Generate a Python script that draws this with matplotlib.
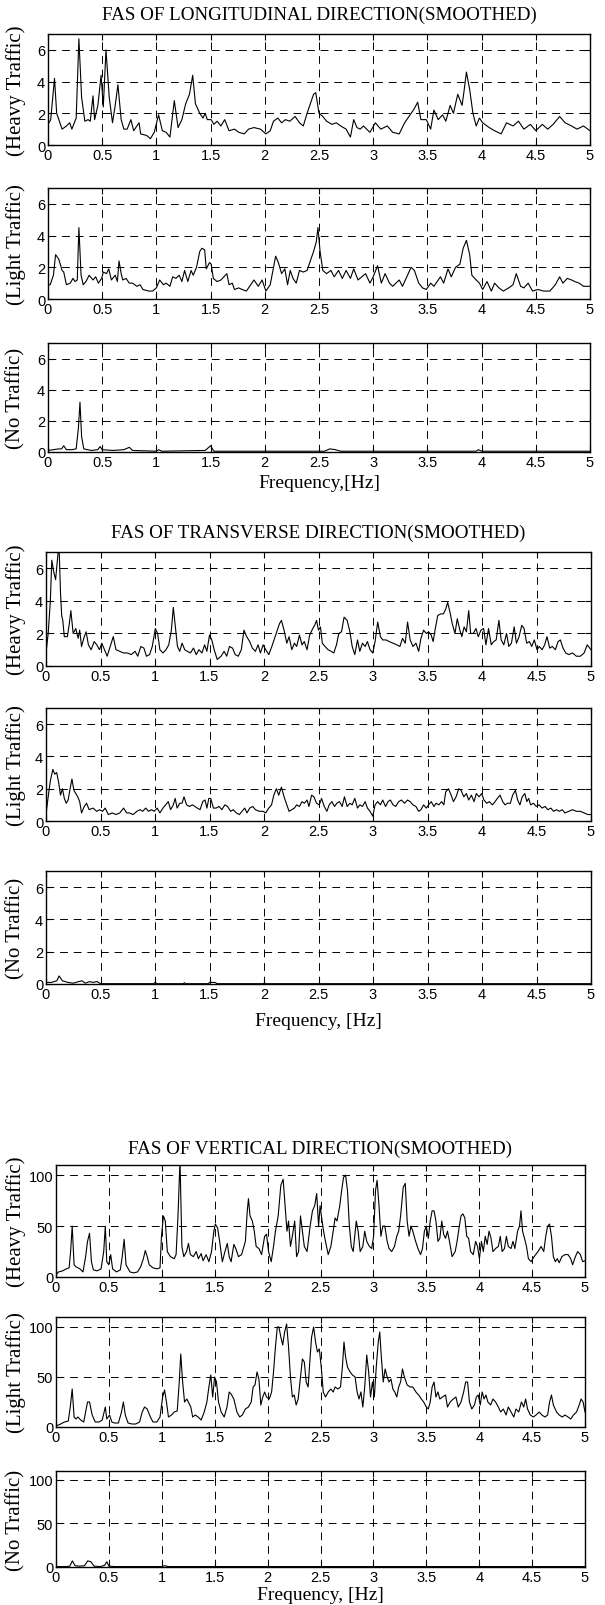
import numpy as np
import matplotlib.pyplot as plt
from matplotlib.ticker import FuncFormatter

# (frequency Hz, amplitude)

# longitudinal
long_heavy = [(0, 1.3), (0.025, 1.6), (0.06, 4.2), (0.08, 2.0), (0.1, 1.6), (0.13, 1.0), (0.17, 1.2),
              (0.2, 1.4), (0.22, 1.0), (0.26, 1.7), (0.285, 6.7), (0.31, 3.0), (0.34, 1.5), (0.37, 1.6),
              (0.39, 1.5), (0.415, 3.1), (0.43, 1.6), (0.46, 2.5), (0.49, 4.4), (0.51, 2.4), (0.535, 6.0),
              (0.565, 3.0), (0.595, 1.4), (0.62, 2.5), (0.645, 3.8), (0.675, 1.6), (0.7, 1.0), (0.73, 1.0),
              (0.765, 1.6), (0.79, 0.9), (0.84, 1.4), (0.855, 0.7), (0.91, 0.6), (0.945, 0.4), (0.98, 0.8),
              (1.02, 1.9), (1.055, 0.9), (1.09, 0.8), (1.125, 0.5), (1.165, 2.8), (1.2, 1.1), (1.235, 1.6),
              (1.27, 2.6), (1.305, 3.2), (1.335, 4.4), (1.36, 2.6), (1.4, 2.0), (1.43, 1.7), (1.45, 2.0),
              (1.47, 1.6), (1.505, 1.6), (1.53, 1.3), (1.56, 1.5), (1.595, 1.2), (1.63, 1.6), (1.67, 0.9),
              (1.72, 1.0), (1.76, 0.8), (1.81, 0.7), (1.85, 1.0), (1.9, 1.1), (1.96, 1.0), (2.01, 0.7),
              (2.05, 0.9), (2.08, 1.5), (2.12, 1.7), (2.155, 1.4), (2.19, 1.6), (2.23, 1.5), (2.28, 1.8),
              (2.32, 1.4), (2.355, 1.2), (2.39, 2.0), (2.425, 2.7), (2.45, 3.2), (2.47, 3.3), (2.5, 2.0),
              (2.535, 1.8), (2.57, 1.5), (2.62, 1.3), (2.66, 1.4), (2.7, 1.2), (2.75, 1.0), (2.79, 0.5),
              (2.82, 1.6), (2.85, 1.1), (2.88, 1.0), (2.91, 1.2), (2.97, 0.8), (3.02, 1.4), (3.07, 1.0),
              (3.13, 1.2), (3.18, 0.8), (3.24, 0.7), (3.29, 1.4), (3.33, 1.8), (3.38, 2.3), (3.41, 2.7),
              (3.44, 1.6), (3.49, 1.6), (3.53, 1.0), (3.56, 2.2), (3.6, 1.6), (3.64, 1.9), (3.67, 1.5),
              (3.71, 2.5), (3.74, 2.0), (3.78, 3.2), (3.82, 2.5), (3.84, 3.5), (3.86, 4.6), (3.89, 3.5),
              (3.92, 2.0), (3.95, 1.2), (3.98, 1.7), (4.01, 1.4), (4.07, 1.1), (4.12, 0.9), (4.18, 0.7),
              (4.23, 1.4), (4.29, 1.2), (4.34, 1.5), (4.39, 1.0), (4.45, 1.3), (4.5, 0.9), (4.56, 1.3),
              (4.61, 1.0), (4.66, 1.3), (4.72, 1.8), (4.77, 1.4), (4.83, 1.2), (4.88, 1.0), (4.94, 1.2),
              (5.0, 0.9)]

long_light = [(0, 0.9), (0.02, 0.9), (0.05, 1.5), (0.07, 2.8), (0.1, 2.5), (0.13, 1.8), (0.145, 1.7),
              (0.17, 0.9), (0.205, 1.0), (0.23, 1.3), (0.25, 1.1), (0.27, 1.2), (0.285, 4.5), (0.305, 1.5),
              (0.325, 0.9), (0.35, 1.1), (0.38, 1.5), (0.415, 1.2), (0.44, 1.4), (0.465, 1.0), (0.495, 1.3),
              (0.51, 1.7), (0.54, 1.6), (0.56, 1.9), (0.585, 1.2), (0.62, 1.5), (0.64, 1.1), (0.655, 2.4),
              (0.675, 1.6), (0.69, 1.2), (0.72, 1.3), (0.75, 1.0), (0.78, 1.0), (0.82, 0.8), (0.85, 0.9),
              (0.875, 0.6), (0.93, 0.5), (0.965, 0.5), (1.0, 0.7), (1.03, 1.2), (1.065, 0.9), (1.09, 1.0),
              (1.125, 0.8), (1.15, 1.4), (1.18, 1.3), (1.21, 1.5), (1.235, 1.1), (1.26, 1.8), (1.29, 1.1),
              (1.32, 1.8), (1.34, 1.5), (1.37, 2.0), (1.4, 3.0), (1.42, 3.2), (1.445, 3.1), (1.46, 1.9),
              (1.49, 2.3), (1.505, 2.2), (1.525, 1.3), (1.56, 1.1), (1.595, 1.2), (1.65, 1.6), (1.67, 0.9),
              (1.7, 1.0), (1.72, 0.6), (1.76, 0.7), (1.79, 0.6), (1.83, 0.5), (1.87, 0.9), (1.9, 1.2),
              (1.94, 0.8), (1.975, 1.2), (2.01, 0.5), (2.05, 0.9), (2.075, 1.8), (2.1, 2.7), (2.125, 2.3),
              (2.155, 1.6), (2.185, 1.9), (2.21, 0.9), (2.235, 1.8), (2.26, 1.3), (2.29, 1.0), (2.32, 1.8),
              (2.355, 1.7), (2.39, 1.8), (2.425, 2.5), (2.45, 3.0), (2.475, 3.6), (2.49, 4.5), (2.51, 3.0),
              (2.535, 1.8), (2.57, 1.6), (2.61, 1.8), (2.64, 1.4), (2.68, 1.8), (2.715, 1.3), (2.75, 1.8),
              (2.79, 1.3), (2.82, 1.9), (2.86, 1.2), (2.895, 1.4), (2.93, 1.6), (2.97, 1.0), (3.0, 1.4),
              (3.04, 2.1), (3.075, 1.0), (3.11, 1.6), (3.15, 1.0), (3.18, 0.8), (3.24, 1.2), (3.27, 0.8),
              (3.31, 1.4), (3.35, 2.0), (3.38, 1.8), (3.42, 1.0), (3.455, 0.7), (3.49, 0.6), (3.53, 1.0),
              (3.56, 0.8), (3.62, 1.4), (3.65, 1.0), (3.69, 1.9), (3.72, 1.4), (3.76, 2.0), (3.8, 2.2),
              (3.83, 3.2), (3.86, 3.7), (3.89, 2.8), (3.91, 1.5), (3.95, 1.2), (3.98, 1.0), (4.01, 0.6),
              (4.05, 1.1), (4.09, 0.5), (4.12, 1.0), (4.16, 0.7), (4.2, 0.5), (4.25, 0.7), (4.29, 0.9),
              (4.32, 1.6), (4.36, 0.8), (4.39, 0.7), (4.43, 1.0), (4.47, 0.5), (4.52, 0.6), (4.57, 0.5),
              (4.63, 0.5), (4.68, 0.9), (4.72, 1.4), (4.75, 1.0), (4.79, 1.3), (4.83, 1.2), (4.86, 1.1),
              (4.9, 1.0), (4.94, 0.8), (5.0, 0.8)]

long_none = [(0, 0.1), (0.05, 0.15), (0.1, 0.2), (0.125, 0.2), (0.145, 0.4), (0.17, 0.15), (0.22, 0.15),
             (0.26, 0.2), (0.28, 1.5), (0.295, 3.2), (0.31, 1.0), (0.33, 0.2), (0.4, 0.1), (0.46, 0.15),
             (0.48, 0.35), (0.5, 0.15), (0.6, 0.1), (0.7, 0.15), (0.75, 0.3), (0.78, 0.1), (1.0, 0.05),
             (1.02, 0.15), (1.05, 0.05), (1.45, 0.1), (1.5, 0.4), (1.53, 0.05), (2.55, 0.05), (2.6, 0.2),
             (2.65, 0.15), (2.7, 0.05), (3.95, 0.05), (3.97, 0.15), (4.0, 0.05), (5.0, 0.05)]

# transverse
trans_heavy = [(0, 0.8), (0.02, 2.0), (0.04, 4.0), (0.053, 6.5), (0.07, 5.8), (0.088, 5.3), (0.098, 6.0),
               (0.11, 6.9), (0.12, 7.3), (0.133, 4.5), (0.144, 3.1), (0.154, 2.8), (0.168, 1.8), (0.196, 1.8),
               (0.214, 2.6), (0.228, 3.4), (0.249, 2.0), (0.273, 2.3), (0.295, 1.7), (0.309, 2.2), (0.326, 1.2),
               (0.351, 1.8), (0.368, 2.1), (0.389, 1.3), (0.414, 1.0), (0.442, 1.5), (0.466, 1.3), (0.491, 1.0),
               (0.512, 1.4), (0.536, 1.0), (0.561, 0.6), (0.589, 1.2), (0.617, 1.8), (0.642, 1.0), (0.677, 0.9),
               (0.712, 0.8), (0.747, 0.8), (0.782, 0.7), (0.817, 0.9), (0.842, 0.6), (0.87, 1.2), (0.898, 1.1),
               (0.922, 0.6), (0.95, 0.7), (0.975, 1.2), (1.003, 2.3), (1.024, 2.0), (1.045, 1.0), (1.073, 0.8),
               (1.101, 1.0), (1.126, 1.3), (1.15, 2.2), (1.168, 3.6), (1.185, 2.5), (1.206, 1.2), (1.227, 0.9),
               (1.248, 1.4), (1.273, 1.0), (1.297, 0.9), (1.325, 0.8), (1.353, 1.1), (1.378, 0.7), (1.403, 1.0),
               (1.431, 0.8), (1.455, 1.3), (1.476, 0.9), (1.5, 1.9), (1.521, 1.6), (1.543, 1.0), (1.571, 0.4),
               (1.606, 0.6), (1.634, 0.9), (1.658, 0.6), (1.683, 1.2), (1.711, 1.1), (1.736, 0.7), (1.764, 0.6),
               (1.792, 1.0), (1.816, 2.2), (1.841, 1.8), (1.869, 1.5), (1.893, 1.1), (1.921, 0.9), (1.946, 1.3),
               (1.967, 0.8), (1.992, 1.3), (2.016, 1.0), (2.044, 0.7), (2.072, 1.2), (2.097, 1.7), (2.121, 2.2),
               (2.142, 2.6), (2.16, 2.8), (2.184, 2.2), (2.209, 1.4), (2.23, 1.8), (2.255, 1.0), (2.279, 1.4),
               (2.3, 1.2), (2.325, 1.9), (2.349, 1.3), (2.37, 1.5), (2.395, 1.0), (2.419, 1.9), (2.44, 2.2),
               (2.465, 2.5), (2.482, 2.8), (2.5, 2.2), (2.518, 2.4), (2.535, 1.4), (2.56, 1.2), (2.588, 1.0),
               (2.616, 0.9), (2.64, 0.8), (2.665, 1.3), (2.686, 2.0), (2.711, 2.1), (2.735, 3.0), (2.763, 2.8),
               (2.788, 2.1), (2.809, 1.2), (2.833, 0.7), (2.858, 1.6), (2.879, 0.9), (2.903, 1.4), (2.928, 1.2),
               (2.949, 1.5), (2.973, 1.0), (2.998, 0.8), (3.019, 1.5), (3.043, 2.7), (3.068, 1.8), (3.089, 1.6),
               (3.12, 1.6), (3.149, 1.5), (3.184, 1.4), (3.219, 1.3), (3.247, 1.2), (3.271, 1.7), (3.296, 1.4),
               (3.317, 2.7), (3.341, 1.6), (3.366, 1.2), (3.394, 1.4), (3.419, 0.9), (3.44, 1.7), (3.464, 2.2),
               (3.489, 2.0), (3.51, 2.1), (3.534, 1.9), (3.552, 1.5), (3.569, 2.2), (3.594, 3.1), (3.622, 3.2),
               (3.646, 3.2), (3.667, 3.5), (3.685, 3.9), (3.703, 3.4), (3.727, 2.6), (3.752, 2.0), (3.773, 2.9),
               (3.797, 2.2), (3.815, 1.8), (3.836, 2.4), (3.857, 2.1), (3.878, 3.4), (3.896, 2.0), (3.92, 2.0),
               (3.945, 2.3), (3.966, 1.8), (3.99, 2.2), (4.015, 2.3), (4.036, 1.3), (4.06, 2.3), (4.085, 1.3),
               (4.106, 1.5), (4.13, 1.6), (4.155, 2.8), (4.176, 1.6), (4.2, 1.3), (4.225, 2.0), (4.246, 1.2),
               (4.27, 1.4), (4.295, 2.4), (4.316, 1.4), (4.34, 1.8), (4.365, 2.5), (4.386, 2.3), (4.41, 1.4),
               (4.435, 1.5), (4.456, 1.2), (4.48, 1.6), (4.505, 1.0), (4.526, 1.2), (4.551, 1.0), (4.575, 1.3),
               (4.596, 1.8), (4.621, 1.1), (4.645, 1.2), (4.673, 1.0), (4.698, 1.5), (4.719, 1.6), (4.743, 1.1),
               (4.768, 0.8), (4.796, 0.7), (4.831, 0.8), (4.866, 0.6), (4.902, 0.6), (4.937, 0.8), (4.965, 1.3),
               (5.0, 1.0)]

trans_light = [(0, 0.4), (0.02, 1.5), (0.04, 2.5), (0.063, 3.2), (0.08, 2.9), (0.098, 3.0), (0.116, 2.4),
               (0.133, 1.6), (0.151, 2.0), (0.168, 1.4), (0.186, 1.1), (0.203, 1.3), (0.221, 2.0), (0.238, 2.6),
               (0.256, 1.9), (0.273, 1.7), (0.291, 1.5), (0.309, 1.2), (0.326, 0.5), (0.351, 0.9), (0.372, 1.1),
               (0.396, 0.7), (0.431, 0.8), (0.466, 0.6), (0.491, 0.7), (0.519, 0.6), (0.543, 0.8), (0.572, 0.4),
               (0.607, 0.5), (0.642, 0.4), (0.677, 0.5), (0.712, 0.8), (0.74, 0.5), (0.764, 0.5), (0.799, 0.4),
               (0.834, 0.6), (0.863, 0.7), (0.887, 0.6), (0.915, 0.8), (0.94, 0.6), (0.968, 0.7), (0.992, 0.6),
               (1.02, 0.8), (1.045, 0.5), (1.073, 0.8), (1.097, 1.0), (1.122, 1.2), (1.143, 0.7), (1.168, 1.0),
               (1.185, 1.4), (1.203, 0.8), (1.227, 1.1), (1.248, 1.1), (1.266, 1.5), (1.29, 1.0), (1.315, 0.9),
               (1.343, 1.0), (1.367, 0.9), (1.388, 0.8), (1.413, 0.7), (1.438, 1.2), (1.459, 1.3), (1.476, 0.8),
               (1.494, 1.4), (1.511, 1.4), (1.536, 0.8), (1.56, 0.8), (1.588, 0.9), (1.613, 0.7), (1.641, 1.0),
               (1.666, 0.9), (1.694, 0.6), (1.718, 0.7), (1.746, 0.5), (1.774, 0.4), (1.799, 0.6), (1.823, 0.8),
               (1.844, 0.5), (1.869, 0.8), (1.897, 0.9), (1.921, 0.7), (1.957, 0.6), (1.992, 0.6), (2.016, 0.5),
               (2.044, 0.8), (2.069, 1.0), (2.09, 1.6), (2.114, 2.0), (2.135, 1.6), (2.16, 2.1), (2.184, 1.5),
               (2.209, 1.0), (2.23, 0.6), (2.255, 0.7), (2.279, 0.8), (2.3, 1.0), (2.325, 0.9), (2.349, 1.2),
               (2.37, 1.1), (2.395, 1.3), (2.412, 0.9), (2.437, 1.6), (2.458, 1.5), (2.482, 1.1), (2.507, 1.0),
               (2.528, 1.4), (2.553, 0.9), (2.577, 0.6), (2.598, 1.0), (2.623, 1.2), (2.647, 0.9), (2.668, 1.1),
               (2.693, 1.2), (2.717, 0.9), (2.738, 1.5), (2.763, 0.9), (2.788, 1.1), (2.809, 1.0), (2.833, 1.4),
               (2.858, 0.8), (2.879, 1.0), (2.903, 0.9), (2.928, 1.2), (2.949, 0.8), (2.973, 0.6), (2.998, 0.3),
               (3.019, 1.0), (3.043, 1.2), (3.068, 1.0), (3.089, 1.3), (3.115, 0.9), (3.138, 1.2), (3.159, 1.3),
               (3.184, 1.0), (3.208, 0.9), (3.236, 1.2), (3.261, 1.3), (3.289, 1.1), (3.317, 1.3), (3.341, 1.2),
               (3.366, 1.0), (3.394, 0.9), (3.419, 0.6), (3.44, 0.7), (3.464, 1.0), (3.489, 0.8), (3.51, 1.0),
               (3.534, 1.2), (3.559, 0.9), (3.58, 1.1), (3.604, 1.0), (3.629, 1.2), (3.65, 1.0), (3.667, 1.8),
               (3.692, 2.0), (3.717, 1.6), (3.738, 1.2), (3.762, 1.5), (3.787, 2.0), (3.808, 1.9), (3.833, 1.5),
               (3.857, 1.7), (3.878, 1.3), (3.903, 1.6), (3.927, 1.2), (3.948, 1.7), (3.973, 1.5), (3.997, 1.7),
               (4.018, 1.3), (4.043, 1.1), (4.067, 1.2), (4.095, 1.0), (4.12, 1.2), (4.141, 1.4), (4.165, 1.6),
               (4.19, 1.2), (4.211, 1.0), (4.235, 1.1), (4.26, 1.1), (4.281, 1.6), (4.306, 1.9), (4.327, 1.3),
               (4.348, 1.0), (4.369, 1.5), (4.393, 1.7), (4.411, 1.2), (4.428, 1.4), (4.446, 1.0), (4.471, 1.1),
               (4.499, 0.9), (4.523, 1.0), (4.551, 0.8), (4.579, 0.9), (4.604, 0.7), (4.632, 0.8), (4.656, 0.6),
               (4.684, 0.7), (4.709, 0.6), (4.737, 0.7), (4.761, 0.5), (4.796, 0.6), (4.831, 0.7), (4.866, 0.6),
               (4.902, 0.6), (4.937, 0.5), (4.972, 0.4), (5.0, 0.4)]

trans_none = [(0, 0.1), (0.05, 0.1), (0.1, 0.2), (0.12, 0.5), (0.15, 0.2), (0.2, 0.1), (0.25, 0.05),
              (0.3, 0.15), (0.33, 0.2), (0.36, 0.05), (0.4, 0.15), (0.43, 0.1), (0.47, 0.15), (0.5, 0.02),
              (0.99, 0.02), (1.0, 0.1), (1.02, 0.02), (1.26, 0.02), (1.27, 0.08), (1.28, 0.02), (1.49, 0.02),
              (1.5, 0.1), (1.55, 0.1), (1.57, 0.02), (1.99, 0.02), (2.0, 0.05), (2.02, 0.02), (5.0, 0.02)]

# vertical
vert_heavy = [(0, 2), (0.025, 5), (0.062, 6), (0.098, 8), (0.124, 9), (0.138, 25), (0.153, 50), (0.171, 12),
              (0.189, 10), (0.226, 8), (0.255, 5), (0.28, 20), (0.298, 35), (0.317, 43), (0.335, 15), (0.353, 7),
              (0.389, 6), (0.426, 8), (0.451, 25), (0.466, 50), (0.48, 15), (0.499, 12), (0.517, 22), (0.535, 8),
              (0.571, 5), (0.608, 7), (0.626, 20), (0.644, 37), (0.662, 12), (0.699, 5), (0.735, 4), (0.771, 5),
              (0.8, 10), (0.826, 18), (0.844, 26), (0.862, 20), (0.881, 12), (0.917, 9), (0.953, 8), (0.983, 9),
              (0.997, 40), (1.015, 60), (1.033, 55), (1.052, 25), (1.081, 20), (1.117, 18), (1.135, 22),
              (1.153, 60), (1.172, 115), (1.19, 30), (1.208, 20), (1.234, 25), (1.252, 33), (1.27, 22),
              (1.299, 20), (1.325, 25), (1.346, 18), (1.372, 23), (1.39, 16), (1.419, 22), (1.445, 15),
              (1.47, 25), (1.492, 45), (1.506, 52), (1.528, 48), (1.547, 35), (1.572, 15), (1.597, 25),
              (1.619, 33), (1.637, 20), (1.655, 15), (1.681, 32), (1.699, 28), (1.725, 20), (1.754, 22),
              (1.79, 35), (1.808, 65), (1.819, 77), (1.834, 60), (1.856, 55), (1.874, 45), (1.892, 30),
              (1.918, 28), (1.943, 22), (1.972, 40), (1.99, 42), (2.009, 25), (2.034, 15), (2.056, 30),
              (2.074, 45), (2.1, 60), (2.125, 90), (2.147, 96), (2.165, 70), (2.183, 45), (2.198, 55),
              (2.216, 30), (2.234, 40), (2.256, 55), (2.274, 20), (2.293, 25), (2.311, 60), (2.329, 45),
              (2.347, 30), (2.373, 25), (2.402, 50), (2.424, 65), (2.445, 70), (2.464, 82), (2.482, 50),
              (2.496, 70), (2.511, 58), (2.529, 45), (2.547, 35), (2.573, 22), (2.598, 30), (2.62, 45),
              (2.638, 58), (2.656, 55), (2.682, 70), (2.7, 85), (2.718, 98), (2.737, 100), (2.755, 85),
              (2.773, 50), (2.791, 30), (2.809, 25), (2.838, 55), (2.856, 45), (2.875, 25), (2.9, 30),
              (2.918, 45), (2.937, 35), (2.962, 30), (2.984, 28), (3.002, 40), (3.02, 85), (3.035, 95),
              (3.053, 70), (3.071, 40), (3.089, 50), (3.108, 50), (3.13, 35), (3.148, 28), (3.173, 25),
              (3.199, 30), (3.221, 40), (3.239, 45), (3.257, 60), (3.282, 88), (3.301, 92), (3.319, 55),
              (3.337, 40), (3.355, 50), (3.373, 45), (3.399, 35), (3.421, 28), (3.446, 22), (3.464, 28),
              (3.482, 45), (3.5, 50), (3.519, 38), (3.537, 55), (3.555, 65), (3.573, 65), (3.591, 55),
              (3.61, 35), (3.628, 38), (3.646, 55), (3.664, 42), (3.682, 38), (3.7, 45), (3.719, 35),
              (3.744, 20), (3.773, 25), (3.791, 35), (3.809, 48), (3.828, 60), (3.846, 62), (3.864, 58),
              (3.882, 40), (3.9, 38), (3.919, 25), (3.944, 22), (3.966, 35), (3.984, 30), (4.002, 18),
              (4.021, 35), (4.039, 25), (4.057, 40), (4.075, 32), (4.093, 45), (4.112, 38), (4.13, 25),
              (4.155, 28), (4.181, 30), (4.199, 40), (4.217, 25), (4.239, 28), (4.257, 40), (4.275, 30),
              (4.301, 28), (4.319, 35), (4.337, 28), (4.363, 45), (4.381, 50), (4.395, 65), (4.41, 45),
              (4.428, 38), (4.447, 30), (4.465, 18), (4.49, 15), (4.519, 20), (4.556, 25), (4.585, 30),
              (4.61, 25), (4.629, 40), (4.647, 50), (4.665, 52), (4.683, 40), (4.701, 20), (4.72, 15),
              (4.738, 18), (4.756, 14), (4.781, 20), (4.811, 22), (4.84, 22), (4.865, 18), (4.883, 12),
              (4.909, 20), (4.931, 25), (4.956, 22), (4.978, 15), (5.0, 16)]

vert_light = [(0, 1), (0.044, 3), (0.08, 5), (0.116, 6), (0.135, 20), (0.153, 38), (0.171, 10), (0.189, 8),
              (0.207, 10), (0.233, 7), (0.262, 5), (0.28, 15), (0.298, 25), (0.317, 25), (0.342, 12), (0.371, 5),
              (0.408, 5), (0.437, 7), (0.455, 15), (0.466, 20), (0.48, 8), (0.506, 12), (0.528, 5), (0.553, 4),
              (0.59, 4), (0.619, 15), (0.637, 25), (0.655, 12), (0.681, 4), (0.717, 3), (0.753, 3), (0.79, 5),
              (0.815, 15), (0.837, 20), (0.862, 18), (0.892, 10), (0.917, 5), (0.953, 5), (0.983, 10),
              (1.008, 30), (1.026, 37), (1.044, 25), (1.063, 10), (1.092, 12), (1.117, 15), (1.146, 16),
              (1.165, 45), (1.179, 73), (1.197, 45), (1.215, 25), (1.237, 28), (1.255, 24), (1.274, 20),
              (1.292, 10), (1.317, 12), (1.343, 10), (1.372, 7), (1.401, 15), (1.426, 25), (1.445, 40),
              (1.463, 52), (1.481, 30), (1.499, 50), (1.517, 45), (1.536, 25), (1.561, 15), (1.59, 10),
              (1.616, 20), (1.637, 35), (1.655, 33), (1.681, 28), (1.71, 15), (1.736, 10), (1.761, 12),
              (1.79, 18), (1.819, 20), (1.845, 25), (1.863, 40), (1.881, 42), (1.9, 55), (1.918, 48),
              (1.936, 22), (1.954, 30), (1.972, 35), (1.99, 30), (2.016, 28), (2.038, 35), (2.056, 55),
              (2.074, 80), (2.092, 100), (2.107, 100), (2.125, 90), (2.143, 82), (2.161, 95), (2.18, 103),
              (2.198, 80), (2.216, 50), (2.234, 30), (2.252, 32), (2.27, 22), (2.289, 28), (2.311, 50),
              (2.329, 68), (2.347, 65), (2.365, 45), (2.383, 40), (2.402, 70), (2.416, 90), (2.435, 100),
              (2.453, 85), (2.471, 75), (2.489, 78), (2.507, 60), (2.526, 35), (2.547, 30), (2.573, 35),
              (2.598, 38), (2.62, 35), (2.638, 40), (2.664, 38), (2.689, 40), (2.707, 60), (2.722, 85),
              (2.737, 70), (2.755, 60), (2.78, 55), (2.802, 52), (2.827, 50), (2.846, 35), (2.864, 28),
              (2.882, 35), (2.9, 20), (2.918, 40), (2.937, 72), (2.955, 55), (2.973, 30), (2.991, 45),
              (3.009, 30), (3.027, 60), (3.046, 85), (3.06, 95), (3.075, 70), (3.093, 45), (3.111, 58),
              (3.13, 50), (3.148, 45), (3.166, 48), (3.184, 38), (3.202, 35), (3.221, 30), (3.239, 40),
              (3.257, 45), (3.275, 58), (3.293, 50), (3.319, 42), (3.348, 40), (3.373, 40), (3.402, 35),
              (3.428, 32), (3.453, 28), (3.475, 25), (3.5, 20), (3.519, 18), (3.537, 25), (3.555, 40),
              (3.573, 45), (3.591, 30), (3.61, 35), (3.628, 28), (3.653, 30), (3.682, 32), (3.7, 20),
              (3.726, 25), (3.755, 28), (3.78, 30), (3.802, 20), (3.828, 25), (3.853, 35), (3.872, 45),
              (3.89, 45), (3.908, 25), (3.93, 18), (3.955, 22), (3.973, 30), (3.991, 32), (4.01, 22),
              (4.028, 35), (4.046, 28), (4.064, 32), (4.082, 25), (4.108, 22), (4.13, 28), (4.155, 25),
              (4.181, 20), (4.203, 15), (4.228, 18), (4.254, 12), (4.275, 20), (4.301, 15), (4.327, 10),
              (4.348, 18), (4.374, 15), (4.399, 25), (4.421, 20), (4.439, 28), (4.457, 18), (4.483, 12),
              (4.512, 10), (4.537, 12), (4.567, 15), (4.592, 12), (4.621, 10), (4.647, 12), (4.665, 25),
              (4.683, 32), (4.701, 22), (4.731, 15), (4.756, 12), (4.785, 10), (4.811, 12), (4.84, 10),
              (4.865, 8), (4.891, 12), (4.92, 15), (4.945, 22), (4.963, 28), (4.982, 25), (5.0, 15)]

vert_none = [(0, 0.5), (0.1, 0.5), (0.13, 1), (0.155, 7), (0.18, 1.5), (0.22, 1), (0.27, 1.5), (0.3, 7),
             (0.33, 6), (0.36, 1), (0.42, 0.5), (0.46, 2), (0.48, 6), (0.5, 1), (0.55, 0.5), (1.0, 0.5),
             (1.03, 1.5), (1.06, 0.5), (5.0, 0.5)]

titles = ['FAS OF LONGITUDINAL DIRECTION(SMOOTHED)',
          'FAS OF TRANSVERSE DIRECTION(SMOOTHED)',
          'FAS OF VERTICAL DIRECTION(SMOOTHED)']
xlabels = ['Frequency,[Hz]', 'Frequency, [Hz]', 'Frequency, [Hz]']
ylabels = ['(Heavy Traffic)', '(Light Traffic)', '(No Traffic)']
groups = [[long_heavy, long_light, long_none],
          [trans_heavy, trans_light, trans_none],
          [vert_heavy, vert_light, vert_none]]
ylims = [7, 7, 110]
yticks = [[0, 2, 4, 6], [0, 2, 4, 6], [0, 50, 100]]

serif = 'Liberation Serif'
sans = 'Liberation Sans'

W, H = 605, 1606
fig = plt.figure(figsize=(W / 100, H / 100), dpi=100)

# pixel boxes (left, right) per group and (top, bottom) per panel
xspan = [(48, 590), (46, 591), (56, 585)]
yspan = [[(35, 146), (189, 300), (344, 453)],
         [(553, 667), (709, 822), (872, 985)],
         [(1166, 1278), (1318, 1428), (1472, 1568)]]
title_y = [15, 533, 1149]
xlabel_y = [484, 1022, 1596]

fmt = FuncFormatter(lambda v, p: '%g' % v)

for g in range(3):
    l, r = xspan[g]
    for k in range(3):
        t, b = yspan[g][k]
        ax = fig.add_axes([l / W, 1 - b / H, (r - l) / W, (b - t) / H])
        f, a = zip(*groups[g][k])
        ax.plot(f, a, color='black', lw=0.8)
        ax.set_xlim(0, 5)
        ax.set_ylim(0, ylims[g])
        ax.set_xticks(np.arange(0, 5.01, 0.5))
        ax.set_yticks(yticks[g])
        ax.xaxis.set_major_formatter(fmt)
        ax.grid(True, color='black', lw=0.7, ls=(0, (8, 6)))
        ax.tick_params(direction='in', top=True, right=True, length=4, width=0.8,
                       labelsize=10.5, pad=2)
        for lab in ax.get_xticklabels() + ax.get_yticklabels():
            lab.set_fontfamily(sans)
        for s in ax.spines.values():
            s.set_linewidth(1.0)
        fig.text(16 / W, 1 - (t + b) / 2 / H, ylabels[k], rotation=90,
                 ha='center', va='center', fontsize=15, family=serif)
    fig.text((l + r) / 2 / W, 1 - title_y[g] / H, titles[g], ha='center', va='center',
             fontsize=13.7, family=serif)
    fig.text((l + r) / 2 / W, 1 - xlabel_y[g] / H, xlabels[g], ha='center', va='center',
             fontsize=14, family=serif)

fig.savefig('out.png', dpi=100)
